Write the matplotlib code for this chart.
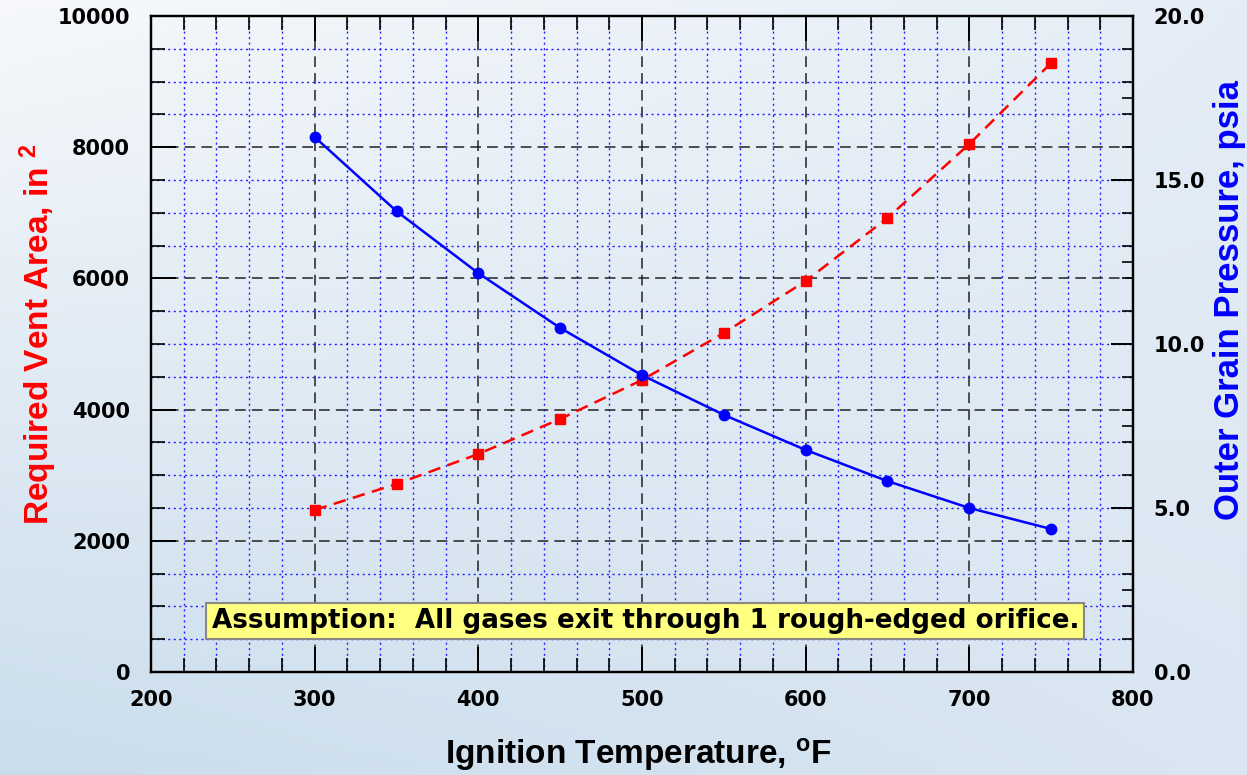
import numpy as np
import matplotlib
matplotlib.use("Agg")
import matplotlib.pyplot as plt
from matplotlib.ticker import MultipleLocator, FixedLocator

plt.rcParams['font.family'] = ['DejaVu Sans']
plt.rcParams['mathtext.fontset'] = 'custom'
plt.rcParams['mathtext.rm'] = 'Liberation Sans:bold'
plt.rcParams['mathtext.bf'] = 'Liberation Sans:bold'
plt.rcParams['mathtext.it'] = 'Liberation Sans:bold'
plt.rcParams['mathtext.default'] = 'bf'

# ---- data ----
temperature = [300, 350, 400, 450, 500, 550, 600, 650, 700, 750]
vent_area = [2470, 2866, 3323, 3857, 4451, 5168, 5960, 6921, 8049, 9284]
pressure = [16.31, 14.05, 12.16, 10.49, 9.05, 7.84, 6.77, 5.82, 5.00, 4.36]

x_ticks = [200, 300, 400, 500, 600, 700, 800]
y1_ticks = [0, 2000, 4000, 6000, 8000, 10000]
y2_ticks = [0.0, 5.0, 10.0, 15.0, 20.0]
y2_minor = [1, 2, 2.5, 3, 4, 6, 7, 7.5, 8, 9, 11, 12, 12.5, 13, 14, 16, 17, 17.5, 18, 19]

W, H = 1247, 775
fig = plt.figure(figsize=(W / 100, H / 100), dpi=100)

# background gradient
bg = fig.add_axes([0, 0, 1, 1], zorder=-10)
tl = np.array([246, 248, 251]) / 255
tr = np.array([228, 237, 246]) / 255
bl = np.array([202, 221, 236]) / 255
br = np.array([218, 230, 242]) / 255
yy, xx = np.mgrid[0:1:100j, 0:1:160j]
img = (tl[None, None] * ((1 - xx) * (1 - yy))[..., None] + tr[None, None] * (xx * (1 - yy))[..., None]
       + bl[None, None] * ((1 - xx) * yy)[..., None] + br[None, None] * (xx * yy)[..., None])
bg.imshow(img, aspect='auto', extent=[0, 1, 0, 1], origin='upper')
bg.axis('off')

ax = fig.add_axes([151 / W, 1 - 672 / H, (1133 - 151) / W, (672 - 16) / H])
ax.set_facecolor('none')
ax.set_xlim(200, 800)
ax.set_ylim(0, 10000)
ax.xaxis.set_major_locator(FixedLocator(x_ticks))
ax.xaxis.set_minor_locator(MultipleLocator(20))
ax.yaxis.set_major_locator(FixedLocator(y1_ticks))
ax.yaxis.set_minor_locator(MultipleLocator(500))

ax.grid(which='major', color='#222222', linestyle=(0, (7, 4)), linewidth=1.1)
ax.grid(which='minor', color='#2020ff', linestyle=(0, (1.5, 2.5)), linewidth=1.0)
ax.set_axisbelow(True)

for s in ax.spines.values():
    s.set_linewidth(1.6)
    s.set_color('black')

ax.tick_params(axis='both', which='major', direction='in', length=18, width=1.4,
               labelsize=15, right=False)
ax.tick_params(axis='both', which='minor', direction='in', length=10, width=1.2,
               right=False)
ax.tick_params(axis='x', which='both', top=True)
ax.tick_params(axis='y', which='major', pad=15)
ax.tick_params(axis='x', which='major', pad=13)
for lab in ax.get_xticklabels() + ax.get_yticklabels():
    lab.set_fontweight('bold')

ax.plot(temperature, vent_area, color='#ff0000', linestyle=(0, (5, 3)), linewidth=1.8,
        marker='s', markersize=7.5, zorder=5)

ax2 = ax.twinx()
ax2.set_ylim(0, 20)
ax2.yaxis.set_major_locator(FixedLocator(y2_ticks))
ax2.yaxis.set_minor_locator(FixedLocator(y2_minor))
ax2.yaxis.set_major_formatter(matplotlib.ticker.FormatStrFormatter('%.1f'))
ax2.tick_params(axis='y', which='major', direction='in', length=16, width=1.4,
                labelsize=15, pad=15)
ax2.tick_params(axis='y', which='minor', direction='in', length=8, width=1.2)
for lab in ax2.get_yticklabels():
    lab.set_fontweight('bold')
for s in ax2.spines.values():
    s.set_linewidth(1.6)
ax2.plot(temperature, pressure, color='#0000ff', linestyle='-', linewidth=1.8,
         marker='o', markersize=7.5, zorder=5)

ax.text(502, 777, 'Assumption:  All gases exit through 1 rough-edged orifice.',
        fontsize=18.8, fontweight='bold', color='black', ha='center', va='center',
        zorder=6,
        bbox=dict(boxstyle='square,pad=0.2', facecolor='#ffff80', edgecolor='#888888',
                  linewidth=1.5))

lab_font = ['Liberation Sans', 'DejaVu Sans']
fig.text(0.5124, 0.027, r'Ignition Temperature, $^{\mathbf{o}}$F', fontsize=24,
         fontweight='bold', family=lab_font, ha='center', va='center', color='black')
fig.text(0.031, 0.569, r'Required Vent Area, in $^{\mathbf{2}}$', fontsize=24,
         fontweight='bold', family=lab_font, ha='center', va='center', rotation=90,
         color='#ff0000')
fig.text(0.986, 0.613, 'Outer Grain Pressure, psia', fontsize=25, fontweight='bold',
         family=lab_font, ha='center', va='center', rotation=90, color='#0000ff')

fig.savefig('out.png', dpi=100)
